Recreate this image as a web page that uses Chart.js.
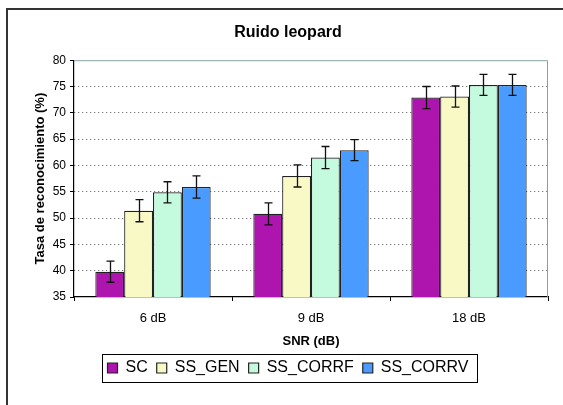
<!DOCTYPE html>
<html>
<head>
<meta charset="utf-8">
<script src="https://cdn.jsdelivr.net/npm/chart.js@4/dist/chart.umd.min.js"></script>
<style>
  html, body { margin: 0; padding: 0; background: #fff; }
  #wrap { width: 563px; height: 405px; }
</style>
</head>
<body>
<div id="wrap"><canvas id="chart"></canvas></div>
<script>
// Datos
const categorias = ['6 dB', '9 dB', '18 dB'];
const series = ['SC', 'SS_GEN', 'SS_CORRF', 'SS_CORRV'];
const valoresSC = [39.8, 50.8, 72.9];
const valoresGEN = [51.4, 58.0, 73.1];
const valoresCORRF = [54.9, 61.5, 75.3];
const valoresCORRV = [55.9, 62.9, 75.3];
const errorSC = [2.0, 2.1, 2.1];
const errorGEN = [2.1, 2.1, 2.0];
const errorCORRF = [2.0, 2.1, 2.0];
const errorCORRV = [2.1, 2.0, 2.0];
const ticksY = [35, 40, 45, 50, 55, 60, 65, 70, 75, 80];

const colores = ['#ae14ae', '#f9f9c6', '#c4fade', '#4a9bff'];

Chart.defaults.font.family = 'Arial, "Liberation Sans", sans-serif';
Chart.defaults.color = '#000';

// Fondo y marco exterior (recortado a la derecha y abajo)
const marcoPlugin = {
    id: 'marco',
    beforeDraw(chart) {
        const ctx = chart.ctx;
        ctx.save();
        ctx.fillStyle = '#fff';
        ctx.fillRect(0, 0, chart.width, chart.height);
        ctx.strokeStyle = '#333';
        ctx.lineWidth = 2;
        ctx.beginPath();
        ctx.moveTo(7, chart.height);
        ctx.lineTo(7, 9);
        ctx.lineTo(chart.width, 9);
        ctx.stroke();
        ctx.restore();
    },
    beforeDatasetsDraw(chart) {
        // borde superior y derecho del área de trazado
        const a = chart.chartArea;
        const ctx = chart.ctx;
        ctx.save();
        ctx.strokeStyle = '#86a3a3';
        ctx.lineWidth = 1;
        ctx.beginPath();
        ctx.moveTo(a.left, a.top + 0.5);
        ctx.lineTo(a.right - 0.5, a.top + 0.5);
        ctx.lineTo(a.right - 0.5, a.bottom);
        ctx.stroke();
        ctx.restore();
    },
    afterDraw(chart) {
        // recuadro de la leyenda
        const boxes = chart.legend && chart.legend.legendHitBoxes;
        if (!boxes || !boxes.length) return;
        let l = Infinity, r = -Infinity, t = Infinity, b = -Infinity;
        boxes.forEach(h => {
            l = Math.min(l, h.left);
            r = Math.max(r, h.left + h.width);
            t = Math.min(t, h.top);
            b = Math.max(b, h.top + h.height);
        });
        const ctx = chart.ctx;
        ctx.save();
        ctx.strokeStyle = '#000';
        ctx.lineWidth = 1;
        ctx.strokeRect(Math.round(l - 6) + 0.5, Math.round(t - 6) + 0.5, Math.round(r - l + 14), Math.round(b - t + 12));
        ctx.restore();
    }
};

// Barras de error
const erroresPlugin = {
    id: 'errores',
    afterDatasetsDraw(chart) {
        const ctx = chart.ctx;
        const y = chart.scales.y;
        ctx.save();
        ctx.strokeStyle = '#111';
        ctx.lineWidth = 1.3;
        chart.data.datasets.forEach((ds, i) => {
            const meta = chart.getDatasetMeta(i);
            meta.data.forEach((bar, j) => {
                const v = ds.data[j];
                const e = ds.errores[j];
                const y1 = y.getPixelForValue(v + e);
                const y2 = y.getPixelForValue(v - e);
                const x = Math.round(bar.x) + 0.5;
                ctx.beginPath();
                ctx.moveTo(x, y1);
                ctx.lineTo(x, y2);
                ctx.moveTo(x - 4, y1);
                ctx.lineTo(x + 4, y1);
                ctx.moveTo(x - 4, y2);
                ctx.lineTo(x + 4, y2);
                ctx.stroke();
            });
        });
        ctx.restore();
    }
};

const ctx = document.getElementById('chart');
new Chart(ctx, {
    type: 'bar',
    data: {
        labels: categorias,
        datasets: [
            { label: series[0], data: valoresSC, errores: errorSC, backgroundColor: colores[0] },
            { label: series[1], data: valoresGEN, errores: errorGEN, backgroundColor: colores[1] },
            { label: series[2], data: valoresCORRF, errores: errorCORRF, backgroundColor: colores[2] },
            { label: series[3], data: valoresCORRV, errores: errorCORRV, backgroundColor: colores[3] }
        ].map(d => ({ ...d, borderColor: '#222', borderWidth: 1.2, borderSkipped: 'start' }))
    },
    options: {
        responsive: true,
        maintainAspectRatio: false,
        animation: false,
        categoryPercentage: 0.73,
        barPercentage: 1.0,
        layout: { padding: { top: 0, left: 28, right: 15, bottom: 19 } },
        plugins: {
            tooltip: { enabled: false },
            title: {
                display: true,
                text: 'Ruido leopard',
                font: { size: 16, weight: 'bold' },
                padding: { top: 23, bottom: 18 }
            },
            legend: {
                display: true,
                position: 'bottom',
                labels: {
                    font: { size: 16 },
                    boxWidth: 10,
                    boxHeight: 10,
                    padding: 9,
                    color: '#000'
                }
            }
        },
        scales: {
            x: {
                grid: {
                    offset: true,
                    drawOnChartArea: false,
                    tickLength: 4,
                    tickColor: '#000'
                },
                border: { color: '#000', width: 1.2 },
                ticks: { font: { size: 13 }, padding: 10, color: '#000' },
                title: {
                    display: true,
                    text: 'SNR (dB)',
                    font: { size: 13, weight: 'bold' },
                    padding: { top: 0, bottom: 2 }
                },
                afterFit(scale) { scale.height = 54; }
            },
            y: {
                min: 35,
                max: 80,
                afterBuildTicks(scale) { scale.ticks = ticksY.map(v => ({ value: v })); },
                grid: {
                    color: c => (c.tick && (c.tick.value === 35 || c.tick.value === 80)) ? 'rgba(0,0,0,0)' : '#555',
                    tickLength: 4,
                    tickColor: '#000',
                    tickBorderDash: []
                },
                border: { color: '#000', width: 1.2, dash: [1, 3] },
                ticks: { font: { size: 12 }, padding: 4, color: '#000' },
                title: {
                    display: true,
                    text: 'Tasa de reconocimiento (%)',
                    font: { size: 13, weight: 'bold' },
                    padding: { top: 5, bottom: 0 }
                },
                afterFit(scale) { scale.width = 46; }
            }
        }
    },
    plugins: [marcoPlugin, erroresPlugin]
});
</script>
</body>
</html>
